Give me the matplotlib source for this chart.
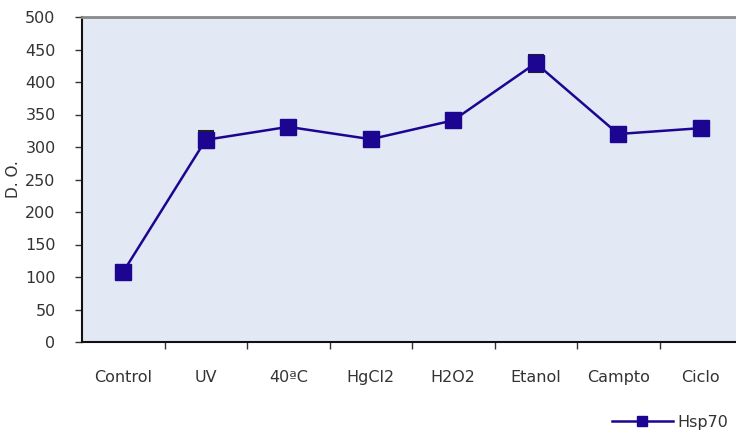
import numpy as np
import matplotlib.pyplot as plt
from matplotlib.ticker import MultipleLocator

# treatments and optical density readings
tratamientos = ["Control", "UV", "40ªC", "HgCl2", "H2O2", "Etanol", "Campto", "Ciclo"]
do_hsp70 = [108, 311, 331, 312, 341, 429, 320, 329]
err_hsp70 = [0, 13, 0, 0, 0, 13, 0, 0]

color_linea = "#1c0591"
fondo = "#e2e9f4"

fig = plt.figure(figsize=(7.36, 4.32), dpi=100)
# the plot area runs a little past the right edge of the figure
ax = fig.add_axes([82 / 736, 90 / 432, 660 / 736, 325 / 432])
ax.set_facecolor(fondo)

x = np.arange(len(tratamientos))
con_err = [i for i, e in enumerate(err_hsp70) if e > 0]
ax.errorbar(x[con_err], [do_hsp70[i] for i in con_err], yerr=[err_hsp70[i] for i in con_err],
            fmt="none", ecolor="#222222", elinewidth=0, capsize=6, capthick=1.5, zorder=2)
ax.plot(x, do_hsp70, color=color_linea, lw=1.8, marker="s", ms=11.5,
        mfc=color_linea, mec=color_linea, label="Hsp70", zorder=3)

ax.set_xlim(-0.5, len(tratamientos) - 0.5)
ax.set_ylim(0, 500)
ax.yaxis.set_major_locator(MultipleLocator(50))

# category labels centred, tick marks on the boundaries
ax.set_xticks(x)
ax.set_xticklabels(tratamientos)
ax.set_xticks(np.arange(0.5, len(tratamientos) - 0.5, 1), minor=True)
ax.tick_params(axis="x", which="major", length=0, pad=20, labelsize=11.5, labelcolor="#333333")
ax.tick_params(axis="x", which="minor", length=5, width=1, color="#333333")
ax.tick_params(axis="y", length=5, width=1, color="#333333", labelsize=11.5,
               labelcolor="#333333", pad=14)

for s in ["left", "bottom"]:
    ax.spines[s].set_color("#111111")
    ax.spines[s].set_linewidth(1.5)
ax.spines["top"].set_color("#8a8a8a")
ax.spines["top"].set_linewidth(2)
ax.spines["right"].set_visible(False)

ax.set_ylabel("D. O.", fontsize=11, color="#333333", labelpad=3)

ax.legend(loc="center", bbox_to_anchor=(670 / 736, 10 / 432), bbox_transform=fig.transFigure,
          frameon=False, fontsize=11.5, handlelength=3.8, handletextpad=0.3, markerscale=0.65,
          labelcolor="#333333")

fig.savefig("out.png", dpi=100)
